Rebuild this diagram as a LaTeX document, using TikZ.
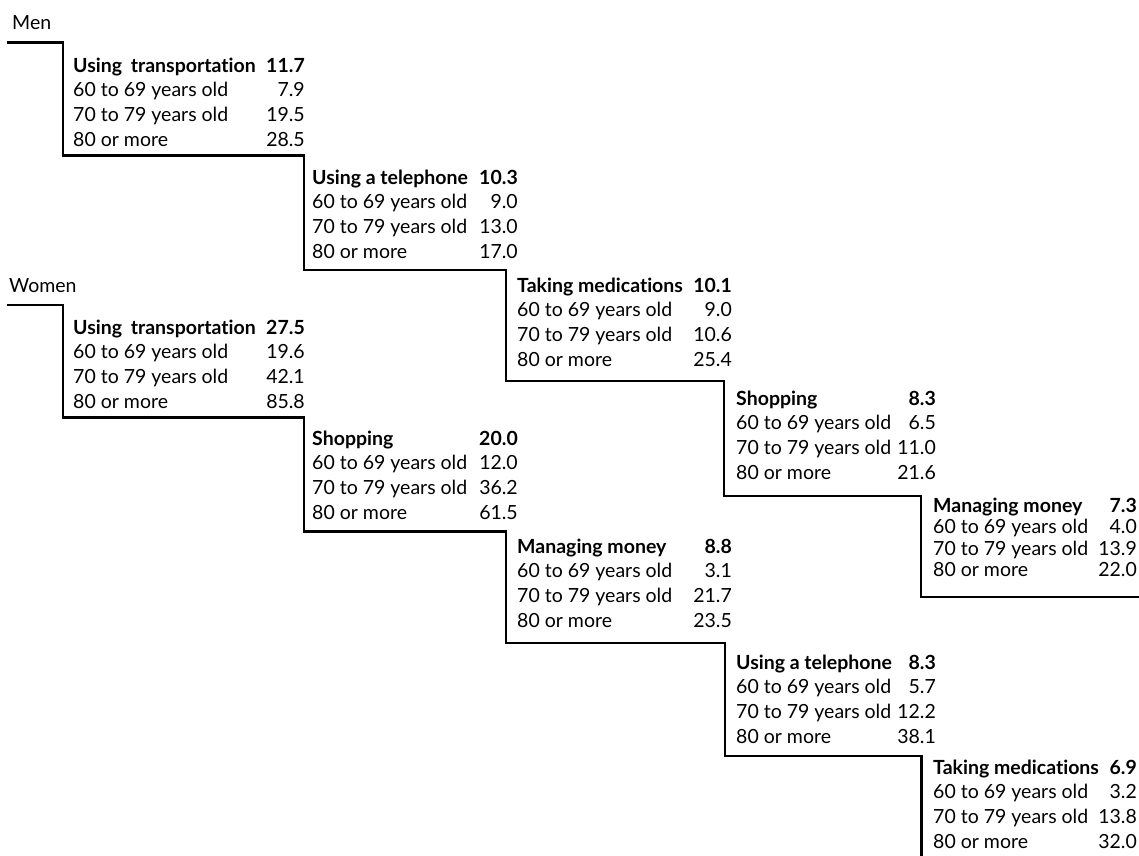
\documentclass[tikz,border=0pt]{standalone}
\usepackage{fontspec}
\setmainfont{Lato}[Ligatures={NoCommon}]
\begin{document}
\begin{tikzpicture}[x=1pt,y=-1pt,
  txt/.style={inner sep=0pt,font=\fontsize{19.5}{24}\selectfont,text=black},
  ttl/.style={txt,font=\fontsize{19.5}{24}\selectfont\bfseries},
  stair/.style={line width=2.9pt,line join=miter,draw=black}]
\useasboundingbox (0,0) rectangle (1139,855);
\def\rs{24.7}
\newcommand\dblock[9]{%
  \node[ttl,anchor=base west] (#1t) at (#2,#4+7) {#5};
  \node[ttl,anchor=base east] (#1tv) at (#3,#4+7) {#6};
  \node[txt,anchor=base west] (#1a) at (#2,#4+7+\rs) {60 to 69 years old};
  \node[txt,anchor=base east] (#1av) at (#3,#4+7+\rs) {#7};
  \node[txt,anchor=base west] (#1b) at (#2,#4+7+2*\rs) {70 to 79 years old};
  \node[txt,anchor=base east] (#1bv) at (#3,#4+7+2*\rs) {#8};
  \node[txt,anchor=base west] (#1c) at (#2,#4+7+3*\rs) {80 or more};
  \node[txt,anchor=base east] (#1cv) at (#3,#4+7+3*\rs) {#9};
}
% group labels
\node[txt,anchor=base west] (men) at (12,22.7+7) {Men};
\node[txt,anchor=base west] (women) at (9,285+7) {Women};
% Men stair line
\coordinate (m0) at (7,42.7);
\coordinate (m1) at (63,42.7);
\coordinate (m2) at (63,155.5);
\coordinate (m3) at (304,155.5);
\coordinate (m4) at (304,270);
\coordinate (m5) at (506,270);
\coordinate (m6) at (506,381);
\coordinate (m7) at (724,381);
\coordinate (m8) at (724,496);
\coordinate (m9) at (921,496);
\coordinate (m10) at (921,597);
\coordinate (m11) at (1140,597);
\draw[stair] (m0) -- (m1) -- (m2) -- (m3) -- (m4) -- (m5) -- (m6) -- (m7) -- (m8) -- (m9) -- (m10) -- (m11);
% Women stair line
\coordinate (w0) at (7,305);
\coordinate (w1) at (63,305);
\coordinate (w2) at (63,417.5);
\coordinate (w3) at (304,417.5);
\coordinate (w4) at (304,531.5);
\coordinate (w5) at (506,531.5);
\coordinate (w6) at (506,643);
\coordinate (w7) at (725,643);
\coordinate (w8) at (725,756);
\coordinate (w9) at (921.5,756);
\coordinate (w10) at (921.5,856);
\draw[stair] (w0) -- (w1) -- (w2) -- (w3) -- (w4) -- (w5) -- (w6) -- (w7) -- (w8) -- (w9) -- (w10);
% Men blocks
\dblock{ma}{73}{305}{65}{Using\hspace{0.45em}transportation}{11.7}{7.9}{19.5}{28.5}
\dblock{mb}{312}{518}{177}{Using a telephone}{10.3}{9.0}{13.0}{17.0}
\dblock{mc}{517}{732}{285}{Taking medications}{10.1}{9.0}{10.6}{25.4}
\dblock{md}{736}{936}{398}{Shopping}{8.3}{6.5}{11.0}{21.6}
\def\rs{21.5}
\dblock{me}{933}{1137}{505}{Managing money}{7.3}{4.0}{13.9}{22.0}
\def\rs{24.7}
% Women blocks
\dblock{wa}{73}{305}{327}{Using\hspace{0.45em}transportation}{27.5}{19.6}{42.1}{85.8}
\dblock{wb}{312}{518}{438}{Shopping}{20.0}{12.0}{36.2}{61.5}
\dblock{wc}{517}{732}{546}{Managing money}{8.8}{3.1}{21.7}{23.5}
\dblock{wd}{736}{936}{662}{Using a telephone}{8.3}{5.7}{12.2}{38.1}
\dblock{we}{933}{1137}{767}{Taking medications}{6.9}{3.2}{13.8}{32.0}
\end{tikzpicture}
\end{document}
